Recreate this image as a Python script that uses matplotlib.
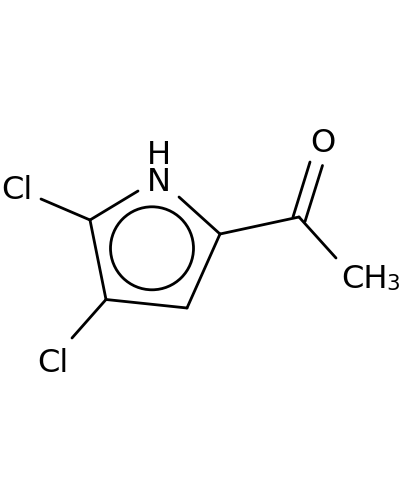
import matplotlib
matplotlib.use("Agg")
import matplotlib.pyplot as plt
from matplotlib.patches import Circle

# Atom positions (x, y in image pixels)
bond_x = [[41, 90], [90, 138], [179, 220], [220, 187], [187, 106], [106, 90], [106, 72], [220, 299], [299, 336], [310, 293], [322.5, 305]]
bond_y = [[199, 220], [220, 191], [197, 234], [234, 308], [308, 299.5], [299.5, 220], [299.5, 338], [234, 217], [217, 258], [162, 217], [165.5, 221.5]]
ring_center_x = [152]
ring_center_y = [248.3]
ring_radius = [41.5]
label_text = ["H\nN", "O", "Cl", "Cl", "CH"]
label_x = [159, 323, 17, 53, 341]
label_y = [191, 152.5, 199, 371.5, 288.5]
label_ha = ["center", "center", "center", "center", "left"]
sub_text = ["3"]
sub_x = [386]
sub_y = [290.5]

fig = plt.figure(figsize=(4, 5), dpi=100)
ax = fig.add_axes([0, 0, 1, 1])
ax.set_xlim(0, 400)
ax.set_ylim(500, 0)
ax.axis("off")
for xs, ys in zip(bond_x, bond_y):
    ax.plot(xs, ys, color="black", lw=2.0, solid_capstyle="round")
ax.add_patch(Circle((ring_center_x[0], ring_center_y[0]), ring_radius[0], fill=False, ec="black", lw=2.0))
for t, x, y, ha in zip(label_text, label_x, label_y, label_ha):
    ax.text(x, y, t, ha=ha, va="baseline", fontsize=23.2, color="black", family="DejaVu Sans",
            linespacing=0.83, multialignment="center")
for t, x, y in zip(sub_text, sub_x, sub_y):
    ax.text(x, y, t, ha="left", va="baseline", fontsize=15.5, color="black", family="DejaVu Sans")
fig.savefig("out.png", dpi=100)
